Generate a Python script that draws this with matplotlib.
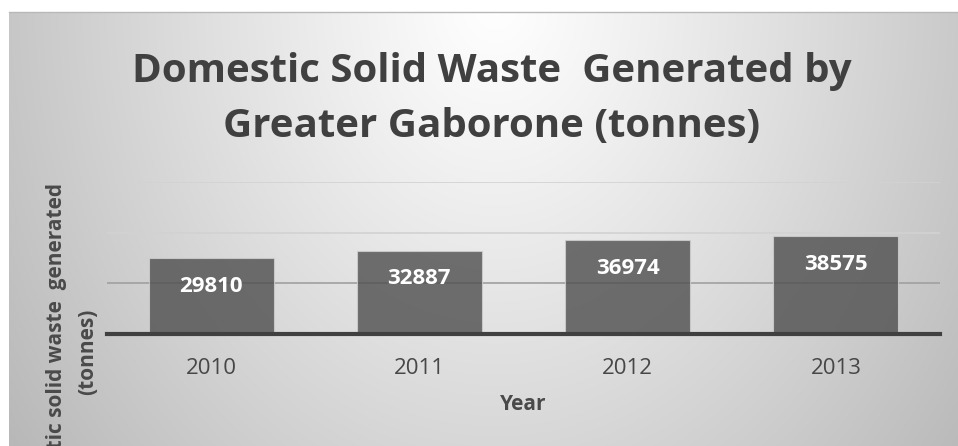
import numpy as np
import matplotlib
matplotlib.use("Agg")
import matplotlib.pyplot as plt

# === DATA ===
years = ["2010", "2011", "2012", "2013"]
waste = [29810, 32887, 36974, 38575]
grid_ticks = [0, 20000, 40000, 60000]

TITLE = "Domestic Solid Waste  Generated by\nGreater Gaborone (tonnes)"
YLABEL = "Domestic solid waste  generated\n(tonnes)"
FONT = "Open Sans"

W, H = 958, 446
fig = plt.figure(figsize=(W / 100, H / 100), dpi=100)
fig.patch.set_facecolor("white")

# === BACKGROUND GRADIENT (radial, light at top centre) ===
bg = fig.add_axes([9 / W, 0, 1 - 9 / W, 1 - 12 / H])
xx, yy = np.meshgrid(np.arange(9, W), np.arange(12, H))
d = np.sqrt((xx - 495) ** 2 + (0.8 * (yy - 0)) ** 2)
v = np.clip(255 - 58 * (d / 500) ** 1.1, 0, 255) / 255
bg.imshow(np.dstack([v, v, v]), aspect="auto", interpolation="bilinear")
bg.axis("off")
# thin border line on top
fig.add_artist(plt.Line2D([9 / W, 1], [1 - 12 / H, 1 - 12 / H], color="#b8b8b8", lw=1))

# === BAR CHART ===
ax = fig.add_axes([107 / W, 1 - 334 / H, (940 - 107) / W, (334 - 182) / H])
ax.set_facecolor("none")
x = np.arange(len(years))
bars = ax.bar(x, waste, width=0.6, color="#505050", alpha=0.81,
              edgecolor="#d0d0d0", linewidth=0.8, zorder=3)
ax.set_xlim(-0.5, len(years) - 0.5)
ax.set_ylim(0, 60000)
ax.set_yticks(grid_ticks)
ax.set_yticklabels([])
ax.tick_params(axis="y", length=0)
ax.tick_params(axis="x", length=0, pad=17, labelsize=16, labelcolor="#474747")
ax.set_xticks(x)
ax.set_xticklabels(years, fontname=FONT)
ax.yaxis.grid(True, zorder=1)
grid_colors = ["#a0a0a0", "#a0a0a0", "#d2d2d2", "#d2d2d2"]
for gl, c in zip(ax.get_ygridlines(), grid_colors):
    gl.set_color(c)
    gl.set_linewidth(1.2)
for s in ["top", "right", "left"]:
    ax.spines[s].set_visible(False)
ax.spines["bottom"].set_color("#404040")
ax.spines["bottom"].set_linewidth(3)
ax.spines["bottom"].set_zorder(4)

for xi, val in zip(x, waste):
    ax.annotate(str(val), (xi, val), xytext=(0, -28), textcoords="offset pixels",
                ha="center", va="center", color="white", fontsize=16,
                fontweight="bold", fontname=FONT, zorder=5)

# === TEXTS ===
fig.text(492 / W, 1 - 99 / H, TITLE, ha="center", va="center", fontsize=29,
         fontweight="bold", color="#404040", fontname=FONT, linespacing=1.55)
fig.text(523 / W, 1 - 404 / H, "Year", ha="center", va="center", fontsize=15,
         fontweight="bold", color="#4a4a4a", fontname=FONT)
fig.text(72 / W, 1 - 352 / H, YLABEL, ha="center", va="center", rotation=90,
         fontsize=15, fontweight="bold", color="#4a4a4a", fontname=FONT,
         linespacing=1.6, multialignment="center")

fig.savefig("out.png", dpi=100)
